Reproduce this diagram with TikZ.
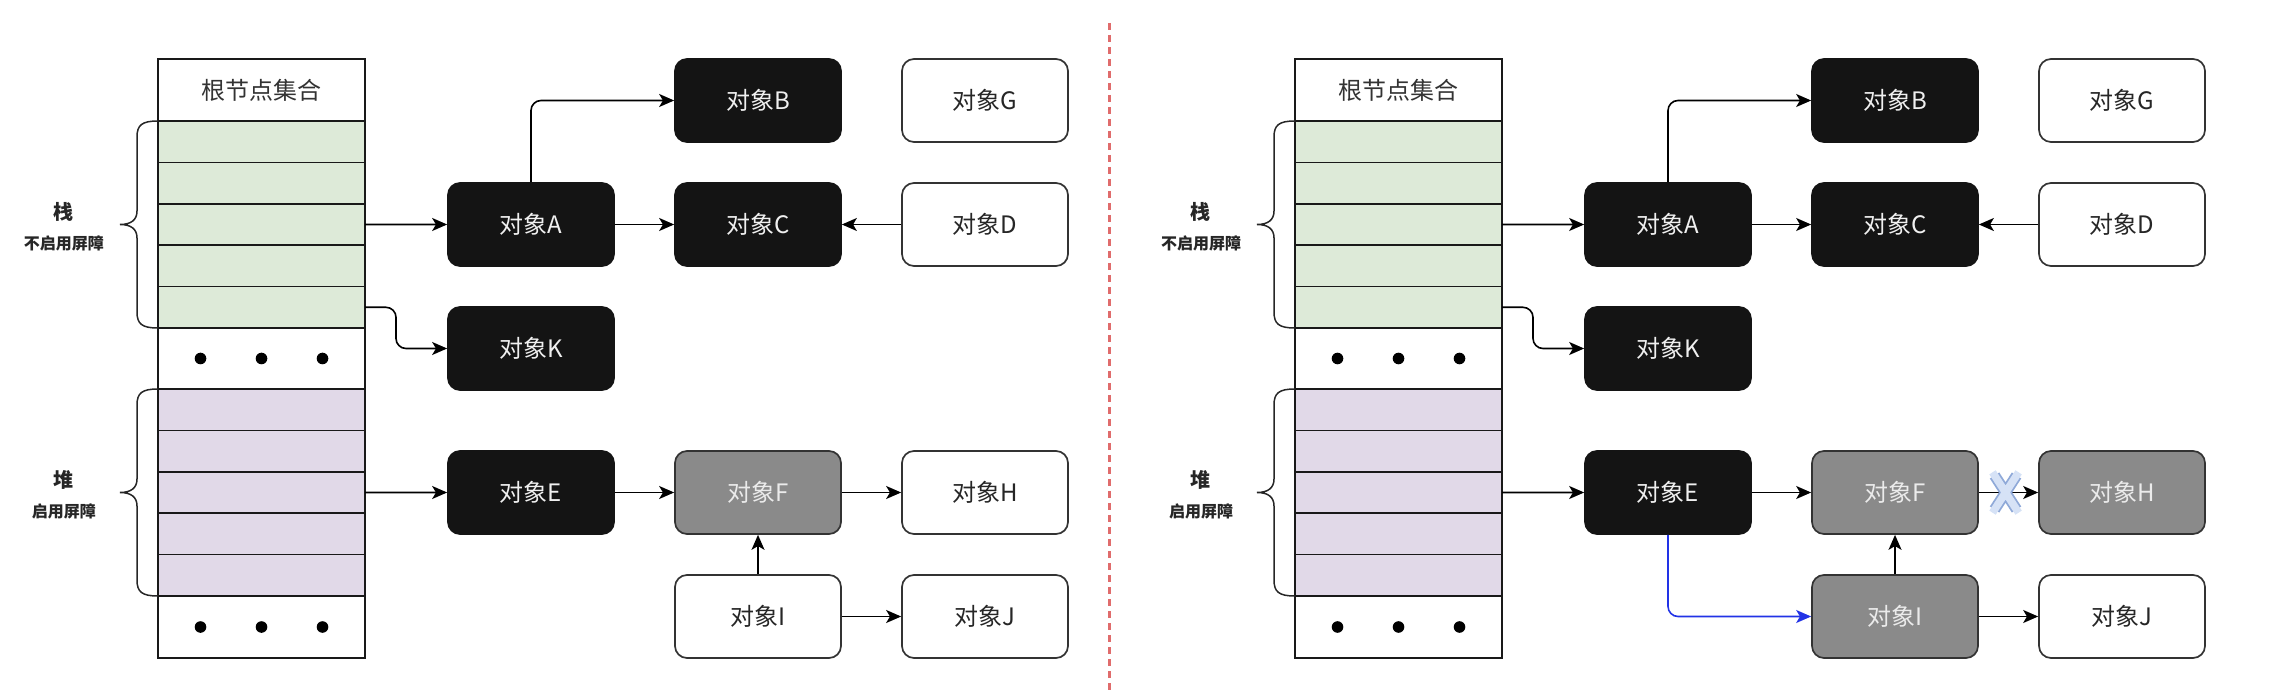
\documentclass[tikz,border=0pt]{standalone}
\usepackage{fontspec}
\setmainfont{Noto Sans CJK SC}
\usepackage{xcolor}
\usetikzlibrary{arrows.meta}
\definecolor{stackfill}{HTML}{DDEAD8}
\definecolor{heapfill}{HTML}{E1D9E8}
\definecolor{markblack}{HTML}{141414}
\definecolor{markgrey}{HTML}{8A8A8A}
\definecolor{edgegrey}{HTML}{333333}
\definecolor{newlink}{HTML}{2233E6}
\definecolor{cutline}{HTML}{8FA9D8}
\definecolor{cutfill}{HTML}{D6E2F6}
\definecolor{split}{HTML}{E06C6C}
\tikzstyle{cell}=[draw=black!90,line width=.75pt,minimum width=103.5pt,minimum height=20.7pt,inner sep=0pt,outer sep=0pt,text=edgegrey,font=\fontsize{12}{14}\selectfont]
\tikzstyle{obj}=[rounded corners=6pt,line width=.85pt,minimum width=83pt,minimum height=41.5pt,inner sep=0pt,font=\fontsize{12}{14}\selectfont]
\tikzstyle{blackobj}=[obj,draw=markblack,fill=markblack,text=white!94!black]
\tikzstyle{greyobj}=[obj,draw=edgegrey,fill=markgrey,text=white!92!black]
\tikzstyle{whiteobj}=[obj,draw=edgegrey,fill=white,text=black!85]
\tikzstyle{tagname}=[inner sep=0pt,text=black!85,font=\bfseries\fontsize{10}{12}\selectfont]
\tikzstyle{tagnote}=[inner sep=0pt,text=black!85,font=\bfseries\fontsize{8}{10}\selectfont]
\tikzstyle{brace}=[line width=.75pt,draw=black!85]
\tikzstyle{conn}=[line width=.8pt,rounded corners=5pt,-{Stealth[length=7.5pt,width=6.5pt,inset=1.9pt]}]
\tikzstyle{cutmark}=[draw=cutfill,line width=3.8pt,line cap=rect,preaction={draw=cutline,line width=5.6pt}]
\tikzstyle{divider}=[draw=split,line width=1.5pt,dash pattern=on 3.5pt off 2.5pt]

\begin{document}
\begin{tikzpicture}[x=0.5pt,y=-0.5pt]
  \useasboundingbox (0,0) rectangle (2274,694);
  \foreach \side/\dx/\hsty/\isty in {l/0/whiteobj/whiteobj,r/1137/greyobj/greyobj}{
    \begin{scope}[shift={(\dx,0)}]
      % root set table
      \node[cell,minimum height=31pt] (\side top) at (261.5,90) {根节点集合};
      \foreach \i in {1,...,5}{
        \node[cell,fill=stackfill] (\side s\i) at (261.5,{121+41.4*(\i-0.5)}) {};
        \node[cell,fill=heapfill]  (\side h\i) at (261.5,{389+41.4*(\i-0.5)}) {};
      }
      \node[cell,minimum height=30.5pt] (\side d1) at (261.5,358.5) {};
      \node[cell,minimum height=31pt]   (\side d2) at (261.5,627) {};
      \foreach \k in {-1,0,1}{
        \fill ([xshift=\k*30.5pt]\side d1.center) circle (2.9pt);
        \fill ([xshift=\k*30.5pt]\side d2.center) circle (2.9pt);
      }
      % braces and their labels
      \foreach \ty/\nm/\note/\k in {121/栈/不启用屏障/s,389/堆/启用屏障/h}{
        \draw[brace] (158,\ty) .. controls (142,\ty) and (137,\ty+4) .. (137,\ty+16) -- (137,\ty+90)
          .. controls (137,\ty+99) and (131,\ty+103.5) .. (120,\ty+103.5)
          .. controls (131,\ty+103.5) and (137,\ty+108) .. (137,\ty+117) -- (137,\ty+191)
          .. controls (137,\ty+203) and (142,\ty+207) .. (158,\ty+207);
        \node[tagname] (\side\k name) at (63,\ty+91) {\nm};
        \node[tagnote] (\side\k note) at (64,\ty+122) {\note};
      }
      % objects
      \node[blackobj] (\side A) at (531,224.5) {对象A};
      \node[blackobj] (\side B) at (758,100.5) {对象B};
      \node[whiteobj] (\side G) at (985,100.5) {对象G};
      \node[blackobj] (\side C) at (758,224.5) {对象C};
      \node[whiteobj] (\side D) at (985,224.5) {对象D};
      \node[blackobj] (\side K) at (531,348.5) {对象K};
      \node[blackobj] (\side E) at (531,492.5) {对象E};
      \node[greyobj]  (\side F) at (758,492.5) {对象F};
      \node[\hsty]    (\side H) at (985,492.5) {对象H};
      \node[\isty]    (\side I) at (758,616.5) {对象I};
      \node[whiteobj] (\side J) at (985,616.5) {对象J};
      % references
      \draw[conn] (\side s3) -- (\side A);
      \draw[conn] (\side s5.east) -- ++(31,0) |- (\side K);
      \draw[conn] (\side A) |- (\side B);
      \draw[conn] (\side A) -- (\side C);
      \draw[conn] (\side D) -- (\side C);
      \draw[conn] (\side h3) -- (\side E);
      \draw[conn] (\side E) -- (\side F);
      \draw[conn] (\side F) -- (\side H);
      \draw[conn] (\side I) -- (\side F);
      \draw[conn] (\side I) -- (\side J);
    \end{scope}
  }
  % new reference E->I and deleted reference F->H
  \draw[conn,color=newlink] (rE) |- (rI);
  \path (rF) -- coordinate[pos=.45] (cut) (rH);
  \draw[cutmark] ([shift={(-5.5pt,-8.5pt)}]cut) -- ([shift={(5.5pt,8.5pt)}]cut)
                 ([shift={(-5.5pt,8.5pt)}]cut) -- ([shift={(5.5pt,-8.5pt)}]cut);
  % divider
  \draw[divider] (1109,23) -- (1109,694);
\end{tikzpicture}
\end{document}
